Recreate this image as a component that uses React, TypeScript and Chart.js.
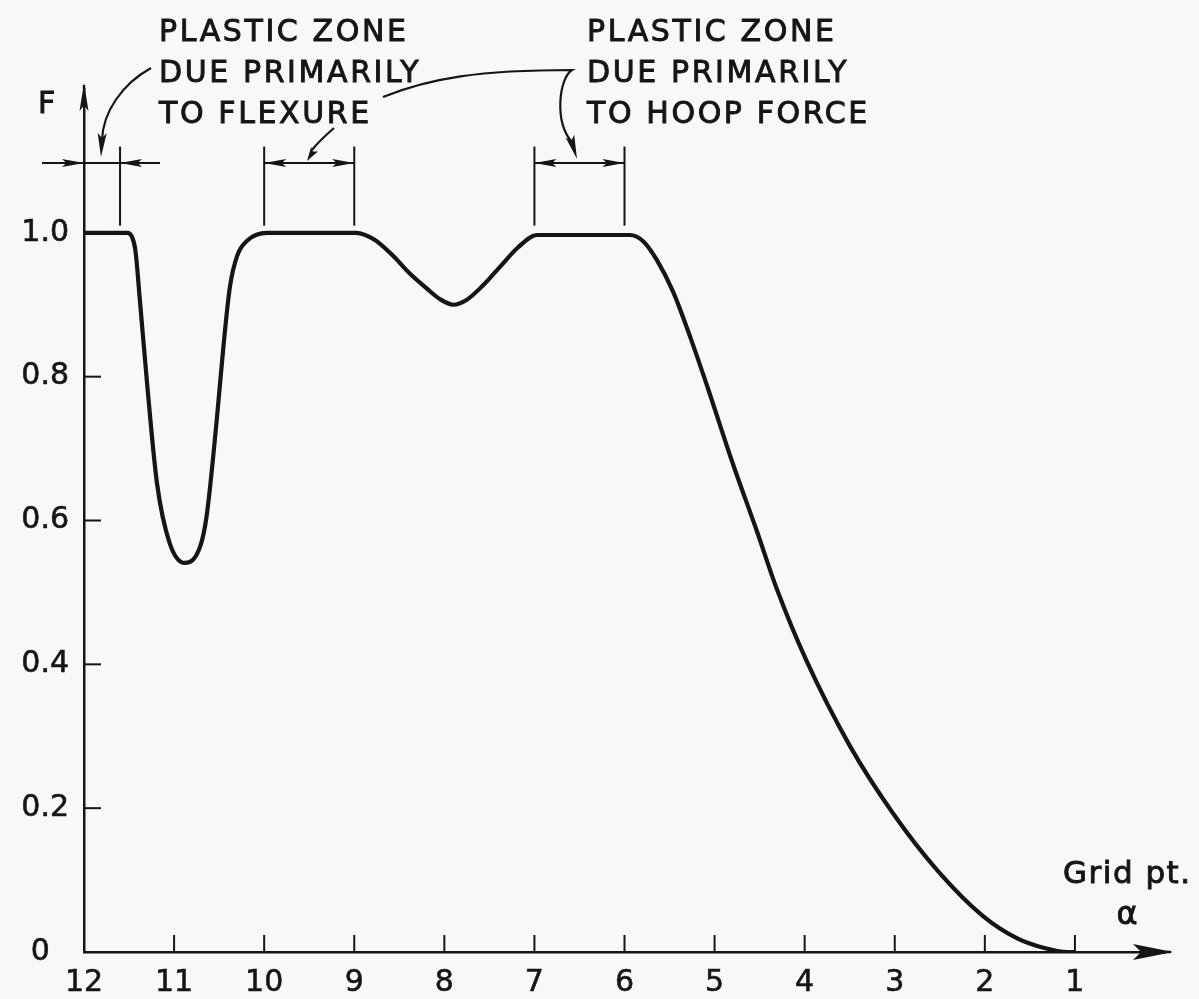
import React, { useEffect, useRef } from 'react';
import { Chart, registerables } from 'chart.js';

Chart.register(...registerables);

// ---- data ----
const GRID_PT = [
  12, 11.52, 11.47, 11.43, 11.38, 11.30, 11.19, 11.05, 10.88, 10.71, 10.64, 10.53, 10.45, 10.38, 10.30, 10.18, 9.97,
  8.98, 8.77, 8.57, 8.38, 8.19, 8.05, 7.90, 7.75, 7.57, 7.38, 7.18, 6.97,
  5.94, 5.79, 5.64, 5.46, 5.27, 5.08, 4.80, 4.53, 4.31, 3.98, 3.50, 3.02, 2.53, 2.02, 1.64, 1.35, 1.08, 1.0,
];
const F_VALUES = [
  1.0, 1.0, 0.995, 0.976, 0.907, 0.791, 0.652, 0.569, 0.541, 0.564, 0.605, 0.735, 0.845, 0.925, 0.968, 0.99, 1.0,
  1.0, 0.99, 0.968, 0.943, 0.922, 0.908, 0.90, 0.907, 0.927, 0.953, 0.980, 0.997,
  0.997, 0.988, 0.962, 0.918, 0.855, 0.786, 0.68, 0.585, 0.505, 0.405, 0.287, 0.193, 0.114, 0.05, 0.019, 0.006, 0.0, 0.0,
];
const X_TICK_MARKS = [11, 10, 9, 8, 7, 6, 5, 4, 3, 2, 1];
const Y_TICK_MARKS = [0.2, 0.4, 0.6, 0.8, 1.0];
const FLEX_EDGE_ZONE = [12, 11.6];
const FLEX_ZONE = [10, 9];
const HOOP_ZONE = [7, 6];
const NOTE_FLEXURE = ['PLASTIC ZONE', 'DUE PRIMARILY', 'TO FLEXURE'];
const NOTE_HOOP = ['PLASTIC ZONE', 'DUE PRIMARILY', 'TO HOOP FORCE'];
const Y_TITLE = 'F';
const X_TITLE = 'Grid pt.';
const X_SYMBOL = 'α';

const INK = '#151515';
const PAPER = '#f8f8f6';
const FONT = '"DejaVu Sans", "Liberation Sans", sans-serif';

function arrowHead(ctx: CanvasRenderingContext2D, tx: number, ty: number, angle: number, len: number, half: number) {
  ctx.save();
  ctx.translate(tx, ty);
  ctx.rotate(angle);
  ctx.beginPath();
  ctx.moveTo(0, 0);
  ctx.lineTo(-len, -half);
  ctx.lineTo(-len * 0.8, 0);
  ctx.lineTo(-len, half);
  ctx.closePath();
  ctx.fill();
  ctx.restore();
}

function seg(ctx: CanvasRenderingContext2D, x1: number, y1: number, x2: number, y2: number) {
  ctx.beginPath();
  ctx.moveTo(x1, y1);
  ctx.lineTo(x2, y2);
  ctx.stroke();
}

function text(ctx: CanvasRenderingContext2D, t: string, x: number, y: number) {
  ctx.fillText(t, x, y);
  ctx.strokeText(t, x, y);
}

const drawingPlugin = {
  id: 'drawing',
  beforeDraw(chart: any) {
    const ctx = chart.ctx as CanvasRenderingContext2D;
    ctx.save();
    ctx.fillStyle = PAPER;
    ctx.fillRect(0, 0, chart.width, chart.height);
    ctx.restore();
  },
  afterDraw(chart: any) {
    const ctx = chart.ctx as CanvasRenderingContext2D;
    const xs = chart.scales.x;
    const ys = chart.scales.y;
    const x0 = xs.getPixelForValue(12);
    const yBase = ys.getPixelForValue(0);
    ctx.save();
    ctx.strokeStyle = INK;
    ctx.fillStyle = INK;
    ctx.lineCap = 'butt';

    // tick marks (inside)
    ctx.lineWidth = 2;
    X_TICK_MARKS.forEach((v) => {
      const px = xs.getPixelForValue(v);
      seg(ctx, px, yBase, px, yBase - 17);
    });
    Y_TICK_MARKS.forEach((v) => {
      const py = ys.getPixelForValue(v);
      seg(ctx, x0, py, x0 + 17, py);
    });

    // axis arrows
    ctx.lineWidth = 2.5;
    seg(ctx, x0, ys.top, x0, ys.top - 4);
    arrowHead(ctx, x0, ys.top - 6, -Math.PI / 2, 28, 4.5);
    seg(ctx, xs.right, yBase, xs.right + 6, yBase);
    arrowHead(ctx, xs.right + 8, yBase, 0, 40, 8);

    // dimension brackets
    const dimY = ys.getPixelForValue(1.097);
    const extTop = ys.getPixelForValue(1.12);
    const extBot = ys.getPixelForValue(1.01);
    ctx.lineWidth = 2;
    const e0 = xs.getPixelForValue(FLEX_EDGE_ZONE[0]);
    const e1 = xs.getPixelForValue(FLEX_EDGE_ZONE[1]);
    seg(ctx, e1, extTop, e1, extBot);
    seg(ctx, e0 - 42, dimY, e1 + 40, dimY);
    arrowHead(ctx, e0, dimY, 0, 22, 4);
    arrowHead(ctx, e1, dimY, Math.PI, 22, 4);
    [FLEX_ZONE, HOOP_ZONE].forEach((z) => {
      const a = xs.getPixelForValue(z[0]);
      const b = xs.getPixelForValue(z[1]);
      seg(ctx, a, extTop, a, extBot);
      seg(ctx, b, extTop, b, extBot);
      seg(ctx, a, dimY, b, dimY);
      arrowHead(ctx, a, dimY, Math.PI, 22, 4);
      arrowHead(ctx, b, dimY, 0, 22, 4);
    });

    // notes
    ctx.lineWidth = 0.9;
    ctx.font = `30px ${FONT}`;
    (ctx as any).letterSpacing = '2.6px';
    ctx.textBaseline = 'middle';
    ctx.textAlign = 'left';
    const lineYs = [33, 74, 115];
    NOTE_FLEXURE.forEach((t, i) => text(ctx, t, 159, lineYs[i]));
    NOTE_HOOP.forEach((t, i) => text(ctx, t, 587, lineYs[i]));

    // axis titles
    (ctx as any).letterSpacing = '0px';
    text(ctx, Y_TITLE, 38, 105);
    ctx.font = `31px ${FONT}`;
    (ctx as any).letterSpacing = '1.5px';
    text(ctx, X_TITLE, 1063, 875);
    (ctx as any).letterSpacing = '0px';
    ctx.textAlign = 'center';
    ctx.font = `32px ${FONT}`;
    text(ctx, X_SYMBOL, 1127, 916);

    // leader lines
    ctx.lineWidth = 2.2;
    ctx.beginPath();
    ctx.moveTo(151, 68);
    ctx.bezierCurveTo(122, 84, 103, 112, 102, 140);
    ctx.stroke();
    arrowHead(ctx, 101, dimY - 6, Math.PI / 2 + 0.05, 24, 4.5);
    ctx.beginPath();
    ctx.moveTo(334, 128);
    ctx.quadraticCurveTo(318, 142, 312, 150);
    ctx.stroke();
    arrowHead(ctx, 307, dimY - 2, Math.PI * 0.68, 14, 4);
    ctx.beginPath();
    ctx.moveTo(383, 97);
    ctx.bezierCurveTo(430, 78, 480, 70, 572, 70);
    ctx.bezierCurveTo(559, 78, 554, 122, 572, 142);
    ctx.stroke();
    arrowHead(ctx, 577, dimY - 4, Math.PI / 2 - 0.3, 24, 4.5);

    ctx.restore();
  },
};

export default function App() {
  const ref = useRef<HTMLCanvasElement | null>(null);

  useEffect(() => {
    document.body.style.margin = '0';
    const canvas = ref.current;
    if (!canvas) return;
    const points = GRID_PT.map((g, i) => ({ x: g, y: F_VALUES[i] }));
    const tickFont = { family: FONT, size: 30 };
    const chart = new Chart(canvas, {
      type: 'line',
      data: {
        datasets: [
          {
            data: points,
            borderColor: INK,
            borderWidth: 4.2,
            pointRadius: 0,
            fill: false,
            cubicInterpolationMode: 'monotone',
          },
        ],
      },
      options: {
        responsive: false,
        animation: false,
        devicePixelRatio: 1,
        layout: { padding: { top: 89, right: 34, left: 0, bottom: 0 } },
        plugins: { legend: { display: false }, tooltip: { enabled: false } },
        scales: {
          x: {
            type: 'linear',
            reverse: true,
            min: 0,
            max: 12,
            afterFit: (s: any) => {
              s.height = 47;
            },
            grid: { display: false, drawTicks: false },
            border: { display: true, color: INK, width: 2.5 },
            ticks: {
              stepSize: 1,
              autoSkip: false,
              maxRotation: 0,
              padding: 13,
              color: INK,
              textStrokeColor: INK,
              textStrokeWidth: 0.6,
              font: tickFont,
              callback: (v: any) => (Number(v) === 0 ? null : String(v)),
            },
          },
          y: {
            type: 'linear',
            min: 0,
            max: 1.2,
            afterFit: (s: any) => {
              s.width = 84;
            },
            grid: { display: false, drawTicks: false },
            border: { display: true, color: INK, width: 2.5 },
            ticks: {
              stepSize: 0.2,
              autoSkip: false,
              padding: 15,
              color: INK,
              textStrokeColor: INK,
              textStrokeWidth: 0.6,
              font: tickFont,
              callback: (v: any) => {
                const n = Number(v);
                if (n > 1.05) return null;
                if (Math.abs(n) < 1e-9) return '0\u2007';
                return n.toFixed(1);
              },
            },
          },
        },
      } as any,
      plugins: [drawingPlugin],
    });
    return () => chart.destroy();
  }, []);

  return (
    <div style={{ width: 1199, height: 999, background: PAPER }}>
      <canvas ref={ref} width={1199} height={999} style={{ display: 'block' }} />
    </div>
  );
}
